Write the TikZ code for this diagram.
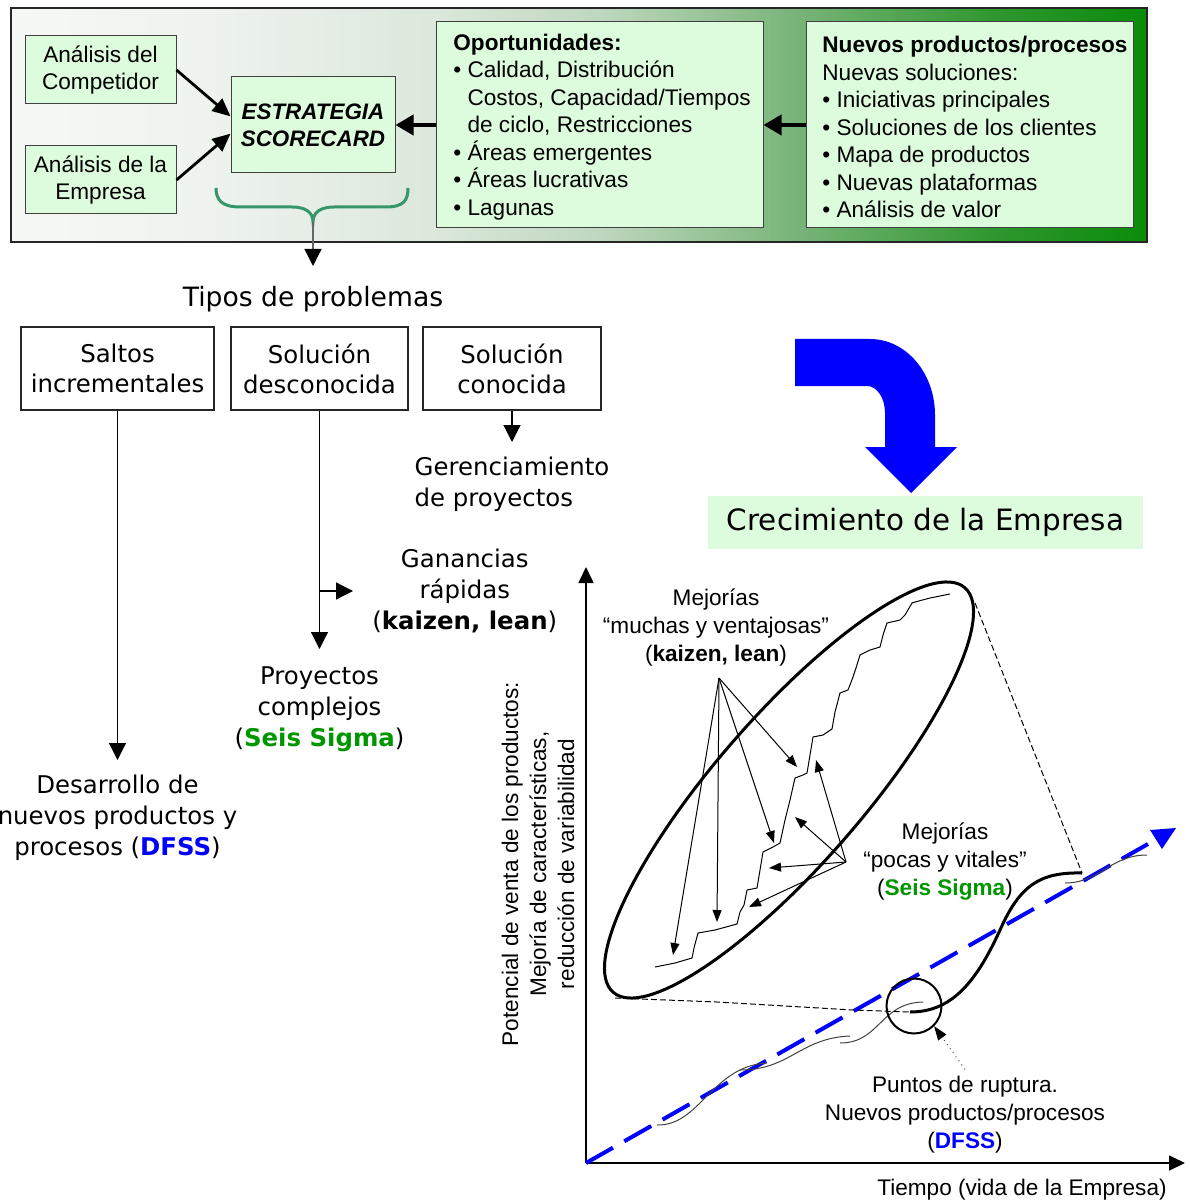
\documentclass[tikz,border=0pt]{standalone}
\usepackage{fontspec}
\setmainfont{Liberation Sans}
\newfontfamily\dejavu{DejaVu Sans}
\usetikzlibrary{arrows.meta}

\definecolor{boxgreen}{RGB}{221,252,221}
\definecolor{sigmagreen}{RGB}{0,150,0}
\definecolor{dfssblue}{RGB}{0,0,255}
\definecolor{bracegreen}{RGB}{55,150,105}
\definecolor{bandA}{RGB}{246,248,246}
\definecolor{bandB}{RGB}{238,243,238}
\definecolor{bandC}{RGB}{220,232,220}
\definecolor{bandD}{RGB}{190,215,190}
\definecolor{bandE}{RGB}{125,182,125}
\definecolor{bandF}{RGB}{45,150,45}
\definecolor{bandG}{RGB}{10,140,10}

% left-to-right fade of the strategy band (path fills 25bp..75bp)
\pgfdeclarehorizontalshading{topband}{100bp}{%
  color(0bp)=(bandA); color(25bp)=(bandA); color(33.5bp)=(bandB);
  color(43.5bp)=(bandC); color(51bp)=(bandD); color(59bp)=(bandE);
  color(68.5bp)=(bandF); color(75bp)=(bandG); color(100bp)=(bandG)}

\tikzset{
  band/.style={draw=black!85, line width=0.8pt, shading=topband, inner sep=0pt},
  gbox/.style={draw=black!75, line width=0.5pt, fill=boxgreen, inner sep=0pt},
  tfont/.style={font=\fontsize{11.3}{13.75}\selectfont},
  wbox/.style={draw=black!85, line width=0.6pt, inner sep=0pt, align=center,
    font=\dejavu\fontsize{12.2}{15}\selectfont, minimum height=41.5pt},
  vfont/.style={font=\dejavu\fontsize{12.2}{15.5}\selectfont},
  gfont/.style={font=\fontsize{11.3}{14}\selectfont},
  toparrow/.style={line width=1.4pt, -{Triangle[length=9pt,width=8pt]}},
  bigarrow/.style={line width=2pt, -{Triangle[length=9pt,width=10pt]}},
  midarrow/.style={line width=0.6pt, -{Triangle[length=8.5pt,width=8.5pt]}},
  smallarrow/.style={line width=0.5pt, -{Triangle[length=6pt,width=4.5pt]}},
  axisarrow/.style={line width=0.8pt, -{Triangle[length=8pt,width=7.5pt]}},
  thinwave/.style={line width=0.5pt, black!75},
  guide/.style={line width=0.5pt, dash pattern=on 3pt off 1.5pt},
}

\begin{document}
\begin{tikzpicture}[x=0.5pt,y=-0.5pt]
\useasboundingbox (0,0) rectangle (1189,1203);

% ---------------- strategy band ----------------
\node[band, minimum width=568pt, minimum height=117pt] (band) at (579,125) {};

\node[gbox, tfont, align=center, minimum width=75.5pt, minimum height=34pt]
  (comp) at (100.5,70) {Análisis del\\Competidor};
\node[gbox, tfont, align=center, minimum width=75.5pt, minimum height=34pt]
  (empr) at (100.5,180) {Análisis de la\\Empresa};
\node[gbox, align=center, minimum width=82pt, minimum height=48pt,
  font=\bfseries\itshape\fontsize{11.2}{13.5}\selectfont]
  (strat) at (313,125) {ESTRATEGIA\\SCORECARD};

\node[gbox, minimum width=163.5pt, minimum height=103pt] (opor) at (599.5,125) {};
\node[tfont, align=left, anchor=west, inner sep=0pt] (oportxt) at (453,127)
  {\textbf{Oportunidades:}\\
   • Calidad, Distribución\\
   \phantom{• }Costos, Capacidad/Tiempos\\
   \phantom{• }de ciclo, Restricciones\\
   • Áreas emergentes\\
   • Áreas lucrativas\\
   • Lagunas};

\node[gbox, minimum width=163.5pt, minimum height=103pt] (nuevo) at (969.5,125) {};
\node[tfont, align=left, anchor=west, inner sep=0pt] (nuevotxt) at (822,127)
  {\textbf{Nuevos productos/procesos}\\
   Nuevas soluciones:\\
   • Iniciativas principales\\
   • Soluciones de los clientes\\
   • Mapa de productos\\
   • Nuevas plataformas\\
   • Análisis de valor};

\draw[toparrow] (comp.east) -- (strat.174);
\draw[toparrow] (empr.east) -- (strat.186);
\draw[bigarrow] (opor.west) -- (strat.east);
\draw[bigarrow] (nuevo.west) -- (opor.east);

% brace under the scorecard
\coordinate (bracetip) at (313,222);
\draw[bracegreen, line width=1.5pt]
  (216,188) .. controls (216,200) and (222,207) .. (240,207) -- (292,207)
  .. controls (305,207) and (313,212) .. (bracetip)
  .. controls (313,212) and (321,207) .. (334,207) -- (386,207)
  .. controls (404,207) and (408,200) .. (408,188);

% ---------------- problem types ----------------
\node[font=\dejavu\fontsize{13.3}{15}\selectfont, anchor=north, inner xsep=0pt, inner ysep=10pt]
  (tipos) at (313,266) {Tipos de problemas};
\draw[black!60, line width=0.6pt, -{Triangle[length=8.5pt,width=8.5pt,black]}] (bracetip) -- (tipos.north);

\node[wbox, minimum width=96.5pt] (saltos) at (117.5,368.5) {Saltos\\incrementales};
\node[wbox, minimum width=88.5pt] (sold) at (319.5,368.5) {Solución\\desconocida};
\node[wbox, minimum width=89pt] (solc) at (512,368.5) {Solución\\conocida};

\node[vfont, align=left, anchor=north, inner xsep=0pt, inner ysep=7.5pt]
  (geren) at (512,442) {Gerenciamiento\\de proyectos};
\node[vfont, align=center, anchor=west, inner xsep=9.5pt, inner ysep=0pt]
  (gan) at (353,591) {Ganancias\\rápidas\\(\textbf{kaizen, lean})};
\node[vfont, align=center, anchor=north, inner xsep=0pt, inner ysep=8.5pt]
  (proy) at (319.5,649) {Proyectos\\complejos\\(\textcolor{sigmagreen}{\textbf{Seis Sigma}})};
\node[vfont, align=center, anchor=north, inner xsep=0pt, inner ysep=7.5pt]
  (desa) at (117.5,760) {Desarrollo de\\nuevos productos y\\procesos (\textcolor{dfssblue}{\textbf{DFSS}})};

\draw[midarrow] (saltos.south) -- (desa.north);
\draw[midarrow] (sold.south) -- (proy.north);
\coordinate (branch) at (319.5,591);
\draw[midarrow] (branch) -- (gan.west);
\draw[midarrow] (solc.south) -- (geren.north);

% ---------------- growth arrow ----------------
\fill[blue] (795,339) -- (870,339) .. controls (906,339) and (935,373) .. (935,415)
  -- (935,447) -- (957,447) -- (911,493) -- (865,447) -- (885,447) -- (885,413)
  .. controls (885,398) and (877,386) .. (867,386) -- (795,386) -- cycle;
\node[fill=boxgreen, minimum width=217.5pt, minimum height=26.5pt, inner sep=0pt,
  font=\dejavu\fontsize{14.7}{16}\selectfont] (crec) at (925.5,522) {Crecimiento de la Empresa};

% ---------------- growth chart ----------------
\coordinate (O) at (586,1163);
\coordinate (ytip) at (586,567);
\coordinate (xtip) at (1185,1163);
\draw[axisarrow] (O) -- (ytip);
\draw[axisarrow] (O) -- (xtip);

\node[gfont, align=center, rotate=90] (ylab) at (538,864)
  {Potencial de venta de los productos:\\Mejoría de características,\\reducción de variabilidad};
\node[gfont] (tiempo) at (1022,1190) {Tiempo (vida de la Empresa)};

% trend line
\coordinate (trendend) at (1148,844);
\draw[blue, line width=2pt, dash pattern=on 15.5pt off 6.5pt] (O) -- (trendend);
\fill[blue] (1150,830) -- (1176,828) -- (1162,849) -- cycle;

% small successive S-curves along the trend
\draw[thinwave] (657,1125) .. controls (700,1126) and (712,1066) .. (767,1063);
\draw[thinwave] (740,1070) .. controls (790,1070) and (800,1038) .. (850,1036);
\draw[thinwave] (840,1043) .. controls (880,1043) and (880,1003) .. (923,1002);
\draw[thinwave] (1065,883) .. controls (1100,883) and (1110,855) .. (1147,855);

% breakthrough S-curve
\draw[line width=1.5pt] (910,1012) .. controls (950,1012) and (975,985) .. (1000,930)
  .. controls (1020,885) and (1040,872) .. (1082,873);
\node[circle, draw, line width=1pt, minimum size=27.5pt, inner sep=0pt] (rupt) at (914,1006) {};

% zoom guides from the ellipse
\draw[guide] (615,998) -- (717,1002) -- (853,1010) -- (910,1012);
\draw[guide] (975,603) -- (1082,873);

% staircase of small improvements
\draw[line width=0.5pt] (655,967) -- (675,963) -- (692,958) -- (694,948) -- (698,933)
  -- (715,930) -- (737,924) -- (740,912) -- (744,905) -- (747,890) -- (757,888)
  -- (760,870) -- (763,852) -- (773,847) -- (780,843) -- (785,820) -- (790,800)
  -- (795,778) -- (803,775) -- (807,773) -- (810,755) -- (813,737) -- (823,735)
  -- (832,729) -- (835,712) -- (840,693) -- (848,690) -- (853,677) -- (856,668)
  -- (860,655) -- (870,650) -- (880,647) -- (883,635) -- (887,623) -- (900,620)
  -- (905,615) -- (912,603) -- (915,602) -- (930,598) -- (950,594);

% ellipse around the incremental phase
\draw[line width=1.5pt, rotate around={49:(789,790)}] (789,790) ellipse [x radius=134pt, y radius=37pt];

\node[gfont, align=center] (mejA) at (716,628)
  {Mejorías\\“muchas y ventajosas”\\(\textbf{kaizen, lean})};
\node[gfont, align=center] (mejB) at (945,862)
  {Mejorías\\“pocas y vitales”\\(\textcolor{sigmagreen}{\textbf{Seis Sigma}})};
\node[gfont, align=center] (puntos) at (965,1115)
  {Puntos de ruptura.\\Nuevos productos/procesos\\(\textcolor{dfssblue}{\textbf{DFSS}})};

\coordinate (srcA) at (719,678);
\coordinate (a1) at (673,955);
\coordinate (a2) at (717,922);
\coordinate (a3) at (774,843);
\coordinate (a4) at (797,767);
\foreach \t in {a1,a2,a3,a4} \draw[smallarrow] (srcA) -- (\t);

\coordinate (srcB) at (846,862);
\coordinate (b1) at (816,760);
\coordinate (b2) at (795,817);
\coordinate (b3) at (769,868);
\coordinate (b4) at (749,907);
\foreach \t in {b1,b2,b3,b4} \draw[smallarrow] (srcB) -- (\t);

\draw[line width=0.5pt, black!70, dotted, -{Triangle[length=7pt,width=5pt,black]}] (puntos.north) -- (rupt.-45);

\end{tikzpicture}
\end{document}
